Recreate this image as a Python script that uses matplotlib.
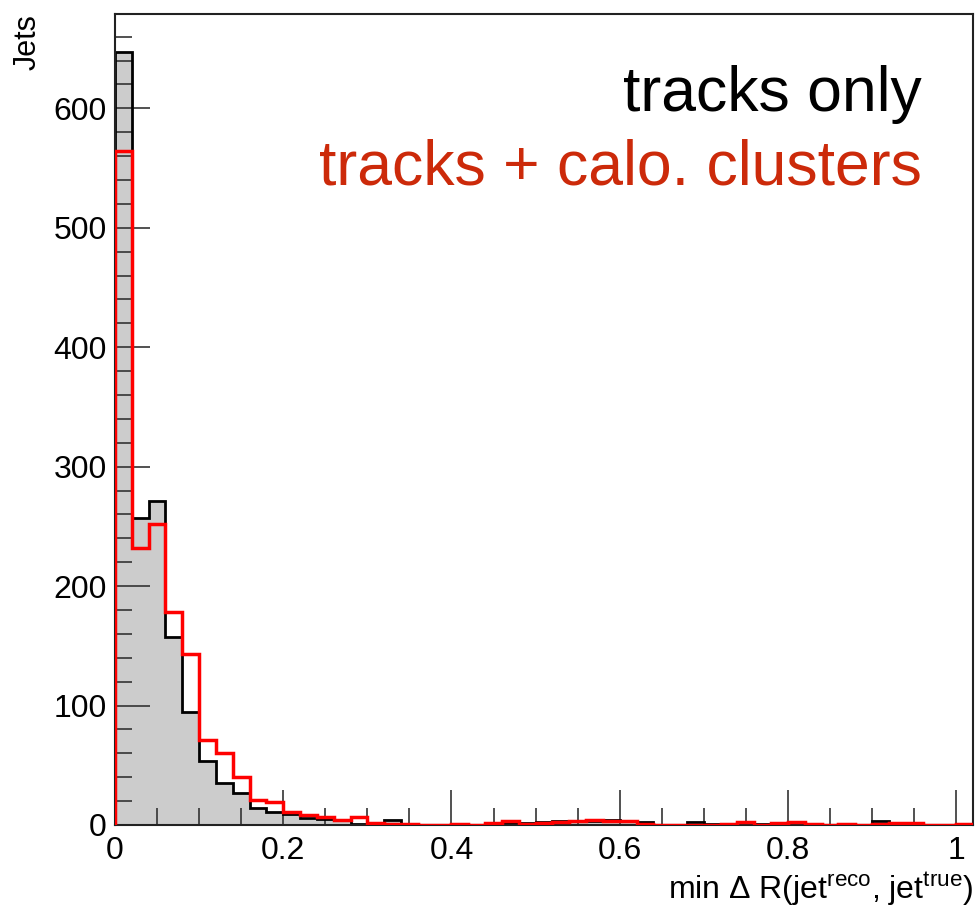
import numpy as np
import matplotlib.pyplot as plt
from matplotlib.ticker import MultipleLocator

plt.rcParams['font.family'] = ['Liberation Sans', 'DejaVu Sans']
plt.rcParams['mathtext.fontset'] = 'custom'
plt.rcParams['mathtext.rm'] = 'Liberation Sans'
plt.rcParams['mathtext.it'] = 'Liberation Sans:italic'

# %% data: 51 bins of width 0.02 from 0 to 1.02
edges = np.round(np.arange(0, 1.0201, 0.02), 3)

tracks_only = [647, 257, 271, 157, 95, 54, 35, 27, 14, 11,
               9, 6, 5, 4, 1, 2, 4, 0, 0, 0,
               0, 0, 1, 2, 2, 2.5, 3.5, 3, 3.5, 4,
               3, 2.5, 0, 0, 2.5, 1, 0, 1, 1, 0,
               2, 1, 0, 1, 0, 3, 1, 2, 0, 0, 0]

tracks_calo = [564, 232, 252, 178, 143, 71, 60, 40, 21, 19,
               11, 8, 7, 4, 7, 2, 1, 1, 0, 0,
               0.5, 0, 1.5, 3, 0.5, 1.5, 2.5, 3.5, 4.5, 3.5,
               3, 1, 0, 0, 0.3, 0, 1, 2.5, 0, 1.5,
               2.5, 1, 0, 1, 0.3, 1, 2, 1.5, 0.3, 0, 1]

red_txt = '#cc2a0a'

# %% figure
fig = plt.figure(figsize=(9.76, 9.09), dpi=100)
ax = fig.add_axes([115/976, 1 - 825/909, (973 - 115)/976, (825 - 14)/909])

ax.stairs(tracks_only, edges, fill=True, color='#cccccc', zorder=1)
ax.stairs(tracks_only, edges, color='black', lw=2, zorder=2)
ax.stairs(tracks_calo, edges, color='#ff0000', lw=2.5, zorder=3)

ax.set_xlim(0, 1.02)
ax.set_ylim(0, 679)

ax.xaxis.set_major_locator(MultipleLocator(0.2))
ax.xaxis.set_minor_locator(MultipleLocator(0.05))
ax.yaxis.set_major_locator(MultipleLocator(100))
ax.yaxis.set_minor_locator(MultipleLocator(20))
ax.set_xticks([0, 0.2, 0.4, 0.6, 0.8, 1.0])
ax.set_xticklabels(['0', '0.2', '0.4', '0.6', '0.8', '1'])

ax.tick_params(which='both', direction='in', top=False, right=False,
               labelsize=23, width=1.2, color='#333333')
ax.tick_params(which='major', length=25)
ax.tick_params(which='minor', length=12)
ax.tick_params(axis='x', pad=8)
ax.tick_params(axis='y', pad=6)
for s in ax.spines.values():
    s.set_linewidth(1.5)
    s.set_color('#222222')

ax.set_xlabel(r'min $\Delta$ R(jet$^{\rm reco}$, jet$^{\rm true}$)',
              fontsize=23, loc='right', labelpad=3)
ax.set_ylabel('Jets', fontsize=22, loc='top', labelpad=8)

ax.text(0.94, 0.88, 'tracks only', transform=ax.transAxes, ha='right',
        va='baseline', fontsize=45, color='black')
ax.text(0.94, 0.79, 'tracks + calo. clusters', transform=ax.transAxes,
        ha='right', va='baseline', fontsize=45, color=red_txt)

fig.savefig('out.png', dpi=100)
